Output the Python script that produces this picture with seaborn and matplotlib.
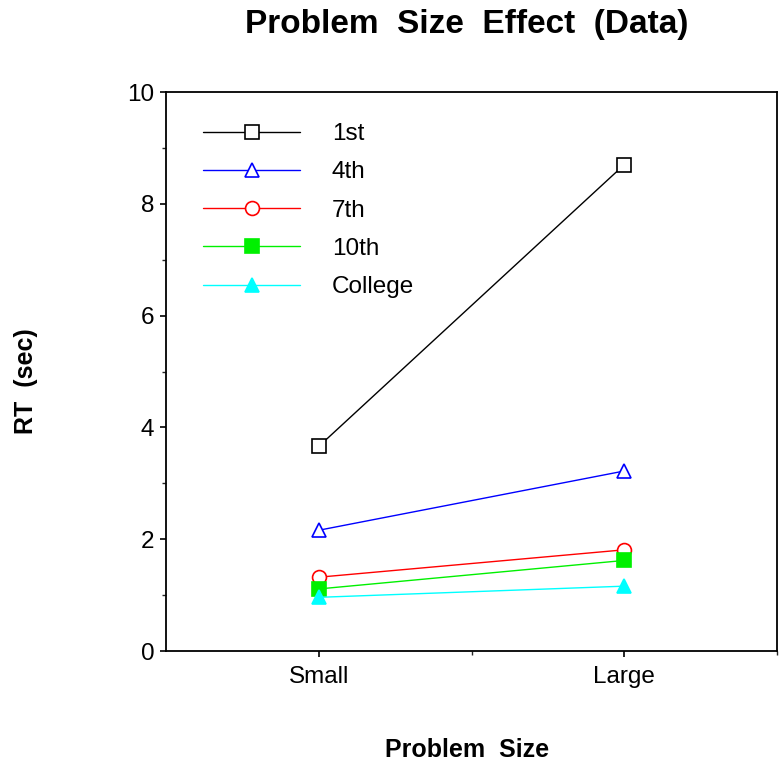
import matplotlib
matplotlib.use("Agg")
import matplotlib.pyplot as plt
from matplotlib.ticker import MultipleLocator, FixedLocator
import seaborn as sns
import pandas as pd

# Problem size conditions and mean response times (sec) per grade group
sizes = ["Small", "Large"]
groups = ["1st", "4th", "7th", "10th", "College"]
rt_1st = [3.66, 8.70]
rt_4th = [2.16, 3.22]
rt_7th = [1.32, 1.81]
rt_10th = [1.11, 1.62]
rt_college = [0.96, 1.16]

series = [rt_1st, rt_4th, rt_7th, rt_10th, rt_college]
colors = ["black", "#0000ff", "#ff0000", "#00f000", "#00ffff"]
markers = ["s", "^", "o", "s", "^"]
filled = [False, False, False, True, True]

rows = []
for g, vals in zip(groups, series):
    for i, (s, v) in enumerate(zip(sizes, vals)):
        rows.append({"group": g, "size": s, "pos": i + 1, "rt": v})
df = pd.DataFrame(rows)

sns.set_theme(style="ticks")
plt.rcParams["font.family"] = ["Liberation Sans", "DejaVu Sans"]
plt.rcParams["text.color"] = "black"
plt.rcParams["axes.labelcolor"] = "black"

W, H = 781, 767
fig = plt.figure(figsize=(W / 100, H / 100), dpi=100)
ax = fig.add_axes([166 / W, 1 - 651 / H, (777 - 166) / W, (651 - 92) / H])

for g, c, m, f in zip(groups, colors, markers, filled):
    sub = df[df["group"] == g]
    sns.lineplot(
        data=sub, x="pos", y="rt", ax=ax, color=c, linewidth=1.0,
        marker=m, markersize=9.5 if m != "o" else 10,
        markerfacecolor=c if f else "white", markeredgecolor=c,
        markeredgewidth=1.2, label=g, estimator=None,
    )

ax.set_xlim(0.5, 2.5)
ax.set_ylim(0, 10)
ax.xaxis.set_major_locator(FixedLocator([1, 2]))
ax.xaxis.set_minor_locator(FixedLocator([1.5, 2.5]))
ax.set_xticklabels(sizes)
ax.yaxis.set_major_locator(MultipleLocator(2))
ax.yaxis.set_minor_locator(MultipleLocator(1))
ax.tick_params(axis="both", which="major", direction="out", length=4, width=1.2,
               labelsize=17.5, colors="black")
ax.tick_params(axis="y", which="major", pad=4.5)
ax.tick_params(axis="x", which="major", pad=7)
ax.tick_params(axis="both", which="minor", direction="out", length=3, width=1.0)
for sp in ax.spines.values():
    sp.set_linewidth(1.3)
    sp.set_color("black")

ax.set_xlabel("")
ax.set_ylabel("")
fig.text(467 / W, 1 - 750 / H, "Problem  Size", fontsize=18, fontweight="bold",
         ha="center", va="center")
fig.text(26 / W, 1 - 381 / H, "RT  (sec)", fontsize=18, fontweight="bold",
         ha="center", va="center", rotation=90)
fig.text(467 / W, 1 - 25 / H, "Problem  Size  Effect  (Data)", fontsize=24,
         fontweight="bold", ha="center", va="center")

leg = ax.legend(loc="upper left", bbox_to_anchor=((203 - 166) / 611, (651 - 123) / 559),
                frameon=False, fontsize=17.5, handlelength=4.0, handletextpad=1.3,
                labelspacing=0.67, borderpad=0, borderaxespad=0)

fig.savefig("out.png", dpi=100, facecolor="white")
